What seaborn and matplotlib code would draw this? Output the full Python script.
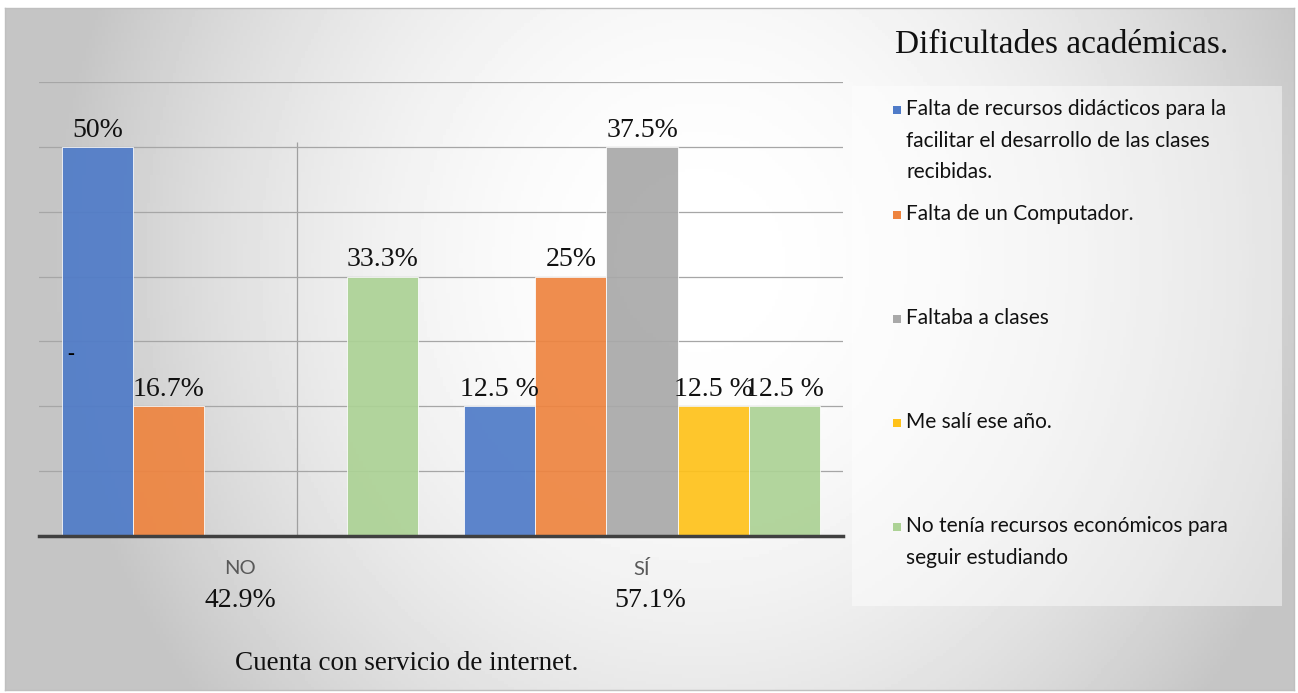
import textwrap
import numpy as np
import pandas as pd
import matplotlib
matplotlib.use("Agg")
import matplotlib.pyplot as plt
from matplotlib.patches import Rectangle
import seaborn as sns

# datos
grupos = ["NO", "SÍ"]
grupos_pct = ["42.9%", "57.1%"]
series = [
    "Falta de recursos didácticos para la facilitar el desarrollo de las clases recibidas.",
    "Falta de un Computador.",
    "Faltaba a clases",
    "Me salí ese año.",
    "No tenía recursos económicos para seguir estudiando",
]
conteo_no = [3, 1, 0, 0, 2]
conteo_si = [1, 2, 3, 1, 1]
etiquetas_no = ["50%", "16.7%", "", "", "33.3%"]
etiquetas_si = ["12.5 %", "25%", "37.5%", "12.5 %", "12.5 %"]
colores = ["#4f7bc8", "#ee843f", "#a9a9a9", "#ffc21a", "#acd295"]

df = pd.DataFrame({
    "grupo": ["NO"] * 5 + ["SÍ"] * 5,
    "serie": series * 2,
    "n": conteo_no + conteo_si,
})

W, H = 1298, 693
fig = plt.figure(figsize=(W / 100, H / 100), dpi=100)
fig.patch.set_facecolor("white")


def fx(px):
    return px / W


def fy(py):
    return 1 - py / H


# fondo con degradado
bg = fig.add_axes([fx(5), fy(690), fx(1294) - fx(5), fy(8) - fy(690)])
xx, yy = np.meshgrid(np.linspace(5, 1294, 400), np.linspace(8, 690, 220))
r2 = ((xx - 700) / 650) ** 2 + ((yy - 260) / 700) ** 2
grad = 1 - 0.23 * np.clip(r2, 0, 1)
bg.imshow(grad, cmap="gray", vmin=0, vmax=1, aspect="auto")
bg.set_xticks([])
bg.set_yticks([])
for s in bg.spines.values():
    s.set_color("#bfbfbf")
    s.set_linewidth(1)

# caja de leyenda
fig.add_artist(Rectangle((fx(852), fy(606)), fx(1282) - fx(852), (606 - 86) / H,
                         transform=fig.transFigure, facecolor="white", alpha=0.45,
                         edgecolor="none"))

ax = fig.add_axes([fx(39), fy(536), fx(843) - fx(39), fy(82) - fy(536)])
ax.set_facecolor("none")
sns.barplot(data=df, x="grupo", y="n", hue="serie", order=grupos, hue_order=series,
            palette=colores, width=0.885, gap=0, saturation=1, legend=False,
            edgecolor="white", linewidth=0.6, alpha=0.92, ax=ax)

ax.set_xlim(-0.5, 1.5)
ax.set_ylim(0, 3.5)
ax.set_yticks(np.arange(0, 3.51, 0.5))
ax.set_yticklabels([])
ax.tick_params(axis="both", length=0)
ax.set_axisbelow(True)
ax.grid(axis="y", color="#a6a6a6", linewidth=0.9)
ax.grid(axis="x", visible=False)
for k in ["top", "left", "right"]:
    ax.spines[k].set_visible(False)
ax.spines["bottom"].set_color("#404040")
ax.spines["bottom"].set_linewidth(2.5)
ax.vlines(0.142, 0, 3.04, color="#a0a0a0", linewidth=0.9, zorder=0.5)

serif = "Liberation Serif"
for i, cont in enumerate(ax.containers):
    ax.bar_label(cont, labels=[etiquetas_no[i], etiquetas_si[i]], padding=3,
                 fontsize=20, family=serif, color="#111111")
ax.text(-0.43, 1.4, "-", fontsize=15, family=serif, ha="left", va="center")

ax.set_xticks([0, 1])
ax.set_xticklabels(grupos, color="#595959", fontsize=14.5, family="Lato")
ax.tick_params(axis="x", pad=17)
ax.set_xlabel("")
ax.set_ylabel("")
for i, p in enumerate(grupos_pct):
    ax.text(i + 0.02 * i, -0.143, p, transform=ax.get_xaxis_transform(), ha="center",
            va="center", fontsize=20, family=serif, color="#111111")

fig.text(fx(407), fy(663), "Cuenta con servicio de internet.", ha="center",
         va="center", fontsize=19.5, family=serif, color="#111111")
fig.text(fx(1062), fy(45), "Dificultades académicas.", ha="center", va="center",
         fontsize=24, family=serif, color="#111111")

# leyenda
ys = [110, 215, 319, 423, 527]
for nombre, c, y in zip(series, colores, ys):
    fig.add_artist(Rectangle((fx(893), fy(y + 4)), 8 / W, 8 / H,
                             transform=fig.transFigure, facecolor=c,
                             edgecolor="none"))
    fig.text(fx(906), fy(y - 11), textwrap.fill(nombre, 37), ha="left", va="top",
             fontsize=15, family="Lato", color="#111111", linespacing=1.72)

fig.savefig("out.png", dpi=100)
